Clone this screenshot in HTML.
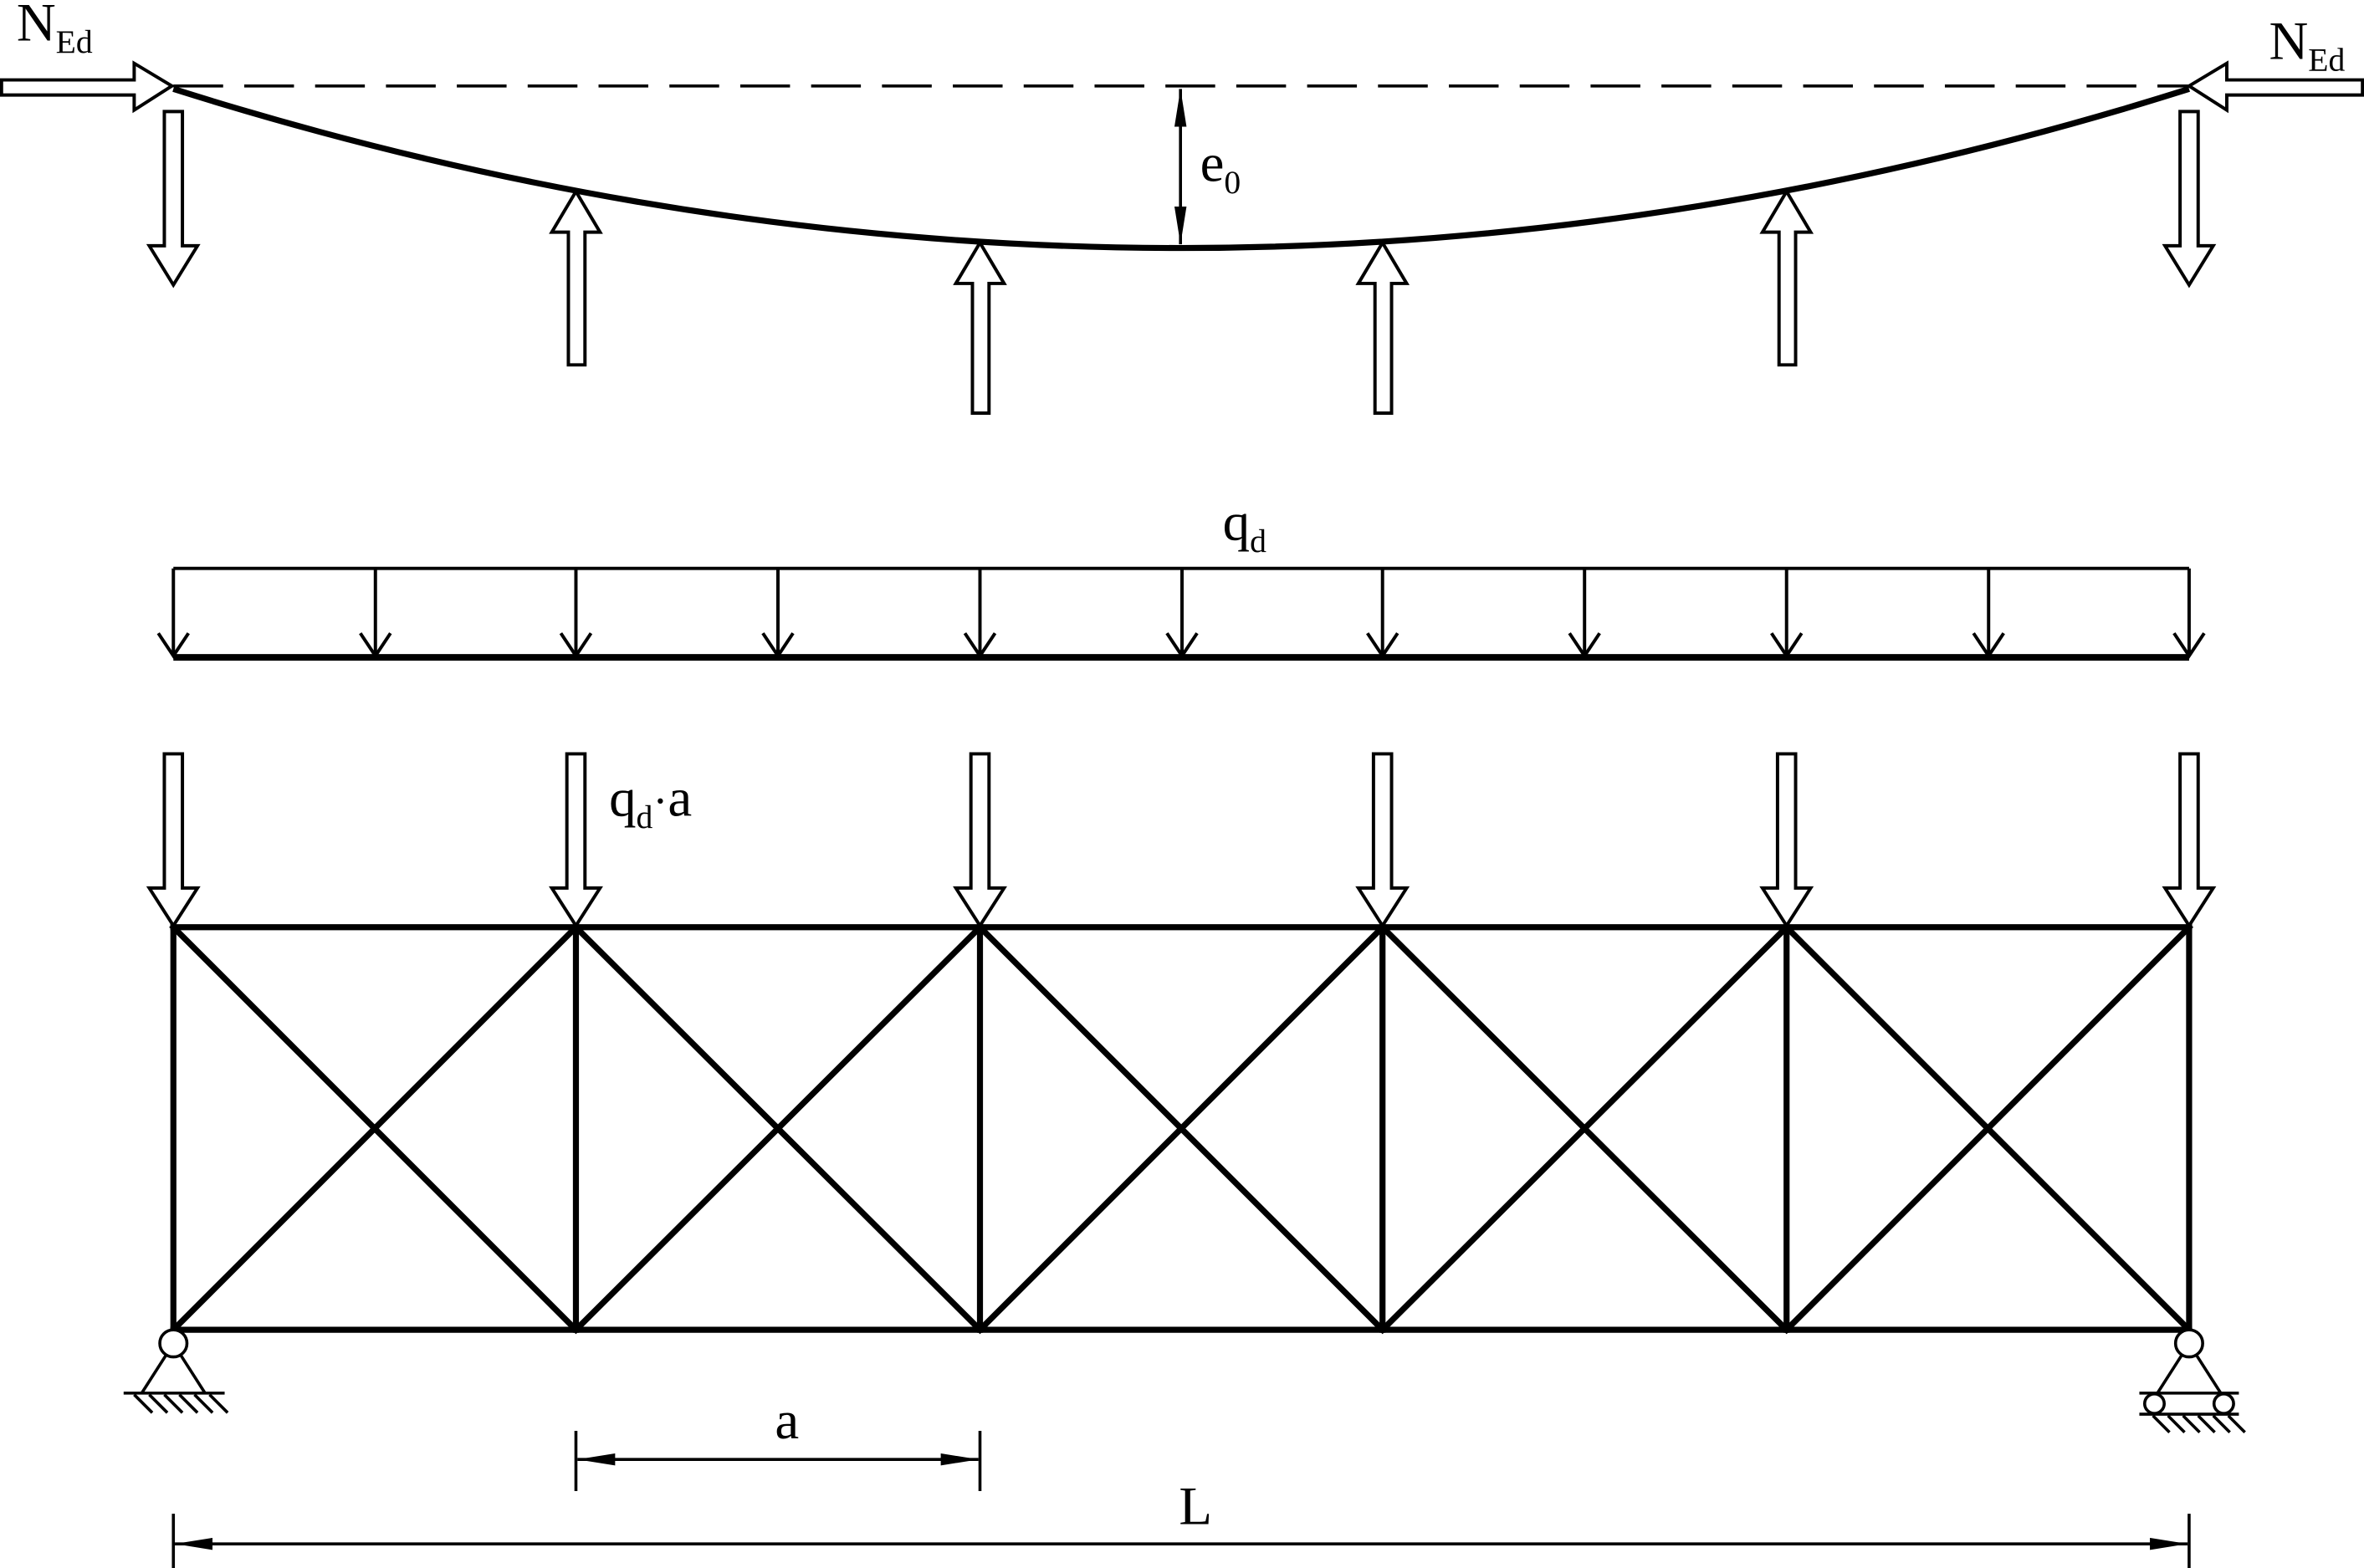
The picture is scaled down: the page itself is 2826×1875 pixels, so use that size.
<!DOCTYPE html>
<html><head><meta charset="utf-8"><style>
html,body{margin:0;padding:0;background:#fff;}
svg{display:block;}
text{font-family:"Liberation Serif","Times New Roman",serif;fill:#000;}
</style></head><body>
<svg width="2826" height="1875" viewBox="0 0 1568 1040" preserveAspectRatio="none" xmlns="http://www.w3.org/2000/svg">
<defs>
<marker id="fa" viewBox="0 0 25 8" refX="25" refY="4" markerWidth="25" markerHeight="8" markerUnits="userSpaceOnUse" orient="auto-start-reverse"><path d="M0,0 L25,4 L0,8 Z" fill="#000"/></marker>
</defs>
<rect width="1568" height="1040" fill="#fff"/>
<g fill="none" stroke="#000" stroke-linejoin="miter">
<line x1="115" y1="57" x2="1452" y2="57" stroke-width="2" stroke-dasharray="33,14"/>
<path d="M115,59 Q783,270 1452,59" stroke-width="4"/>
<path d="M1,53 H89 V42 L114,57 L89,73 V63 H1 Z" stroke-width="2.2" fill="#fff"/>
<path d="M1567,53 H1477 V42 L1452,57 L1477,73 V63 H1567 Z" stroke-width="2.2" fill="#fff"/>
<path d="M109,74 H121 V163 H131 L115,189 L99,163 H109 Z" stroke-width="2.2"/>
<path d="M1446,74 H1458 V163 H1468 L1452,189 L1436,163 H1446 Z" stroke-width="2.2"/>
<path d="M377,242 H388 V154 H398 L382,127 L366,154 H377 Z" stroke-width="2.2"/>
<path d="M1180,242 H1191 V154 H1201 L1185,127 L1169,154 H1180 Z" stroke-width="2.2"/>
<path d="M645,274 H656 V188 H666 L650,161 L634,188 H645 Z" stroke-width="2.2"/>
<path d="M912,274 H923 V188 H933 L917,161 L901,188 H912 Z" stroke-width="2.2"/>
<line x1="783" y1="59" x2="783" y2="162" stroke-width="2" marker-start="url(#fa)" marker-end="url(#fa)"/>
<line x1="115" y1="377" x2="1452" y2="377" stroke-width="2.2"/>
<line x1="115" y1="436" x2="1452" y2="436" stroke-width="4.4"/>
<g stroke-width="2.2">
<path d="M115,377V435 M105,420L115,435L125,420"/>
<path d="M249,377V435 M239,420L249,435L259,420"/>
<path d="M382,377V435 M372,420L382,435L392,420"/>
<path d="M516,377V435 M506,420L516,435L526,420"/>
<path d="M650,377V435 M640,420L650,435L660,420"/>
<path d="M784,377V435 M774,420L784,435L794,420"/>
<path d="M917,377V435 M907,420L917,435L927,420"/>
<path d="M1051,377V435 M1041,420L1051,435L1061,420"/>
<path d="M1185,377V435 M1175,420L1185,435L1195,420"/>
<path d="M1319,377V435 M1309,420L1319,435L1329,420"/>
<path d="M1452,377V435 M1442,420L1452,435L1462,420"/>
</g>
<g stroke-width="4" stroke-linecap="square">
<line x1="115" y1="615" x2="1452" y2="615"/>
<line x1="115" y1="882" x2="1452" y2="882"/>
<line x1="115" y1="615" x2="115" y2="882"/>
<line x1="382" y1="615" x2="382" y2="882"/>
<line x1="650" y1="615" x2="650" y2="882"/>
<line x1="917" y1="615" x2="917" y2="882"/>
<line x1="1185" y1="615" x2="1185" y2="882"/>
<line x1="1452" y1="615" x2="1452" y2="882"/>
<path d="M115,615L382,882M382,615L115,882"/>
<path d="M382,615L650,882M650,615L382,882"/>
<path d="M650,615L917,882M917,615L650,882"/>
<path d="M917,615L1185,882M1185,615L917,882"/>
<path d="M1185,615L1452,882M1452,615L1185,882"/>
</g>
<g stroke-width="2.2" fill="#fff">
<path d="M109,500 H121 V589 H131 L115,614 L99,589 H109 Z"/>
<path d="M376,500 H388 V589 H398 L382,614 L366,589 H376 Z"/>
<path d="M644,500 H656 V589 H666 L650,614 L634,589 H644 Z"/>
<path d="M911,500 H923 V589 H933 L917,614 L901,589 H911 Z"/>
<path d="M1179,500 H1191 V589 H1201 L1185,614 L1169,589 H1179 Z"/>
<path d="M1446,500 H1458 V589 H1468 L1452,614 L1436,589 H1446 Z"/>
</g>
<g stroke-width="2">
<circle cx="115" cy="891" r="9" fill="#fff"/>
<path d="M110,899 L94,924 M120,899 L136,924"/>
<line x1="82" y1="924" x2="149" y2="924"/>
<path d="M89,925l12,12 M99,925l12,12 M109,925l12,12 M119,925l12,12 M129,925l12,12 M139,925l12,12"/>
</g>
<g stroke-width="2">
<circle cx="1452" cy="891" r="9" fill="#fff"/>
<path d="M1447,899 L1431,924 M1457,899 L1473,924"/>
<line x1="1419" y1="924" x2="1485" y2="924"/>
<circle cx="1429" cy="931" r="6.5" fill="#fff"/>
<circle cx="1475" cy="931" r="6.5" fill="#fff"/>
<line x1="1419" y1="938" x2="1485" y2="938"/>
<path d="M1428,939l11,11 M1438,939l11,11 M1448,939l11,11 M1458,939l11,11 M1468,939l11,11 M1478,939l11,11"/>
</g>
<g stroke-width="2">
<line x1="382" y1="949" x2="382" y2="989"/>
<line x1="650" y1="949" x2="650" y2="989"/>
<line x1="383" y1="968" x2="649" y2="968" marker-start="url(#fa)" marker-end="url(#fa)"/>
<line x1="115" y1="1004" x2="115" y2="1040"/>
<line x1="1452" y1="1004" x2="1452" y2="1040"/>
<line x1="116" y1="1024" x2="1451" y2="1024" marker-start="url(#fa)" marker-end="url(#fa)"/>
</g>
</g>
<g font-family="Liberation Serif, Times New Roman, serif">
<text x="11" y="27" font-size="36">N<tspan font-size="22" dy="8">Ed</tspan></text>
<text x="1505" y="39" font-size="36">N<tspan font-size="22" dy="8">Ed</tspan></text>
<text x="796" y="120" font-size="36">e<tspan font-size="22" dy="8">0</tspan></text>
<text x="811" y="358" font-size="36">q<tspan font-size="22" dy="8">d</tspan></text>
<text x="404" y="541" font-size="36">q<tspan font-size="22" dy="8">d</tspan><tspan dy="-8" font-size="30">·</tspan><tspan>a</tspan></text>
<text x="514" y="954" font-size="36">a</text>
<text x="782" y="1011" font-size="36">L</text>
</g>
</svg>
</body></html>
